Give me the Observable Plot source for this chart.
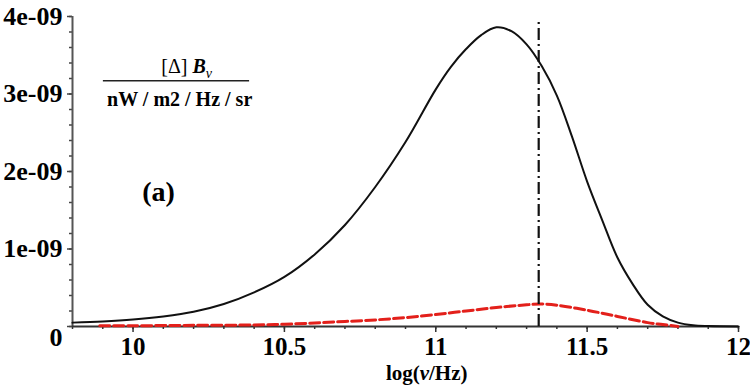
<!DOCTYPE html>
<html><head><meta charset="utf-8">
<script src="https://cdn.jsdelivr.net/npm/d3@7"></script>
<script src="https://cdn.jsdelivr.net/npm/@observablehq/plot@0.6"></script>
<style>body{margin:0;background:#fff}</style>
</head><body><div id="chart"></div>
<script>
// Black solid curve: [Δ]B_ν vs log(ν/Hz)
const logNu = [9.80, 9.90, 10.00, 10.10, 10.20, 10.30, 10.40, 10.50, 10.60, 10.70, 10.80, 10.90, 11.00, 11.05, 11.10, 11.15, 11.20, 11.25, 11.30, 11.35, 11.40, 11.45, 11.50, 11.55, 11.60, 11.65, 11.70, 11.75, 11.80, 11.85, 11.90, 12.00];
const deltaB = [0.05e-9, 0.065e-9, 0.09e-9, 0.13e-9, 0.19e-9, 0.29e-9, 0.44e-9, 0.64e-9, 0.93e-9, 1.31e-9, 1.80e-9, 2.38e-9, 3.06e-9, 3.35e-9, 3.58e-9, 3.76e-9, 3.86e-9, 3.81e-9, 3.64e-9, 3.36e-9, 2.98e-9, 2.45e-9, 1.87e-9, 1.37e-9, 0.89e-9, 0.55e-9, 0.28e-9, 0.13e-9, 0.05e-9, 0.015e-9, 0.005e-9, 0];
// Red dashed curve
const logNuRed = [9.89, 10.00, 10.20, 10.40, 10.50, 10.60, 10.70, 10.80, 10.90, 11.00, 11.10, 11.20, 11.30, 11.35, 11.40, 11.50, 11.60, 11.70, 11.75, 11.80];
const deltaBRed = [0.01e-9, 0.01e-9, 0.015e-9, 0.02e-9, 0.03e-9, 0.045e-9, 0.065e-9, 0.085e-9, 0.115e-9, 0.155e-9, 0.20e-9, 0.245e-9, 0.28e-9, 0.29e-9, 0.275e-9, 0.21e-9, 0.13e-9, 0.05e-9, 0.025e-9, 0];
// Vertical dash-dot marker
const markerLogNu = 11.34;
const markerTop = 3.95e-9;
// Ticks
const xTicks = [10, 10.5, 11, 11.5, 12];
const xTickLabels = ["10", "10.5", "11", "11.5", "12"];
const yTicks = [0, 1e-9, 2e-9, 3e-9, 4e-9];
const yTickLabels = ["0", "1e-09", "2e-09", "3e-09", "4e-09"];
const xMinor = d3.range(98, 121).map(d => d / 10);
const yMinor = d3.range(0, 21).map(d => d * 0.2e-9);
// Annotations
const numerator = "[Δ] Bν";
const denominator = "nW / m2 / Hz / sr";
const panelLabel = "(a)";
const xLabel = "log(ν/Hz)";

const black = logNu.map((x, i) => ({x, y: deltaB[i]}));
const red = logNuRed.map((x, i) => ({x, y: deltaBRed[i]}));
const xLab = new Map(xTicks.map((t, i) => [t, xTickLabels[i]]));
const yLab = new Map(yTicks.map((t, i) => [t, yTickLabels[i]]));
const F = "Liberation Serif, Times New Roman, serif";

const plot = Plot.plot({
  width: 750, height: 392,
  marginLeft: 72, marginRight: 12, marginTop: 16, marginBottom: 66,
  style: {fontFamily: F, background: "#fff", color: "#000"},
  x: {domain: [9.8, 12], axis: null},
  y: {domain: [0, 4e-9], axis: null},
  marks: [
    Plot.axisX({ticks: xMinor, label: null, tickSize: 3, tickFormat: () => "", stroke: "#333", strokeWidth: 1.5}),
    Plot.axisX({ticks: xTicks, label: null, tickSize: 6, tickPadding: 5, tickFormat: d => xLab.get(d),
      fontSize: 25, fontWeight: "bold", fontFamily: F, stroke: "#333", strokeWidth: 1.5, fill: "#000"}),
    Plot.axisY({ticks: yMinor, label: null, tickSize: 3, tickFormat: () => "", stroke: "#444", strokeWidth: 1.5}),
    Plot.axisY({ticks: yTicks, label: null, tickSize: 5, tickPadding: 5, tickFormat: d => d === 0 ? "" : yLab.get(d),
      fontSize: 26, fontWeight: "bold", fontFamily: F, stroke: "#444", strokeWidth: 1.5, fill: "#000"}),
    Plot.text([0], {x: () => 9.8, y: d => d, text: d => yLab.get(d), textAnchor: "end", dx: -10, dy: 11,
      fontSize: 26, fontWeight: "bold", fontFamily: F, fill: "#000"}),
    Plot.ruleX([9.8], {stroke: "#555", strokeWidth: 2}),
    Plot.ruleY([0], {stroke: "#333", strokeWidth: 2}),
    Plot.line(red, {x: "x", y: "y", stroke: "#e3201b", strokeWidth: 3, strokeDasharray: "10,4", curve: "catmull-rom"}),
    Plot.line(black, {x: "x", y: "y", stroke: "#111", strokeWidth: 2, curve: "catmull-rom"}),
    Plot.ruleX([markerLogNu], {y1: 0, y2: markerTop, stroke: "#111", strokeWidth: 2.2, strokeDasharray: "12,4,2,4"}),
    Plot.text([numerator], {x: () => 10.177, y: () => 3.35e-9, text: d => d, fontSize: 20, fontFamily: F, fill: "#000"}),
    Plot.ruleY([3.17e-9], {x1: 9.902, x2: 10.385, stroke: "#222", strokeWidth: 1.5}),
    Plot.text([denominator], {x: () => 10.154, y: () => 2.93e-9, text: d => d, fontSize: 20, fontWeight: "bold", fontFamily: F, fill: "#000"}),
    Plot.text([panelLabel], {x: () => 10.084, y: () => 1.74e-9, text: d => d, fontSize: 28, fontWeight: "bold", fontFamily: F, fill: "#000"}),
    Plot.text([xLabel], {x: () => 10.97, frameAnchor: "bottom", dy: 53, text: d => d, fontSize: 21, fontWeight: "bold", fontFamily: F, fill: "#000"})
  ]
});
// rich formatting for the numerator (italic B, subscript ν)
d3.select(plot).selectAll("text").filter(function() { return this.textContent === numerator; })
  .each(function() {
    const t = d3.select(this);
    t.text(null);
    t.append("tspan").text("[Δ] ");
    t.append("tspan").attr("font-style", "italic").attr("font-weight", "bold").text("B");
    t.append("tspan").attr("font-style", "italic").attr("font-size", 14).attr("dy", 5).text("ν");
  });
d3.select(plot).selectAll("text").filter(function() { return this.textContent === xLabel; })
  .each(function() {
    const t = d3.select(this);
    t.text(null);
    t.append("tspan").text("log(");
    t.append("tspan").attr("font-style", "italic").text("ν");
    t.append("tspan").text("/Hz)");
  });
document.getElementById("chart").appendChild(plot);
</script></body></html>
